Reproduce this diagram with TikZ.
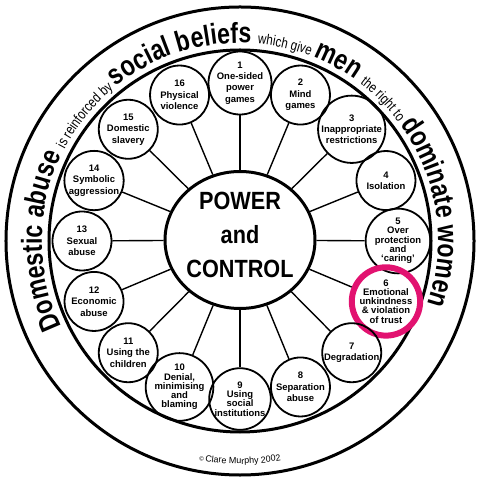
\documentclass[tikz,border=0pt]{standalone}
\usepackage{fontspec}
\setmainfont{Liberation Sans}
\newfontfamily\ringfont[FakeStretch=0.8]{Liberation Sans}
\newfontfamily\hubfont[FakeStretch=0.87]{Liberation Sans}
\usetikzlibrary{shapes.geometric}
\usetikzlibrary{decorations.text}
\definecolor{ringpink}{RGB}{226,18,112}
\newcommand{\ringbig}{\ringfont\bfseries\fontsize{29}{29}\selectfont}
\newcommand{\ringsmall}{\ringfont\fontsize{14.5}{14.5}\selectfont}
\newcommand{\copyfont}{\fontsize{9}{9}\selectfont}
\tikzset{tactic/.style={circle,draw,line width=1.8bp,minimum size=59bp,inner sep=0pt,align=center,font=\bfseries\fontsize{9.5}{11.5}\selectfont}}
\tikzset{tight/.style={font=\bfseries\fontsize{9.5}{9.3}\selectfont}}
\tikzset{spoke/.style={line width=1.4bp}}
\begin{document}
\begin{tikzpicture}[x=1bp,y=1bp,line join=round]
  \useasboundingbox (-240,-242) rectangle (240,241);
  \draw[line width=3bp] (0,0) circle [radius=234];
  \draw[line width=3bp] (0,0) circle [radius=191];
  \path[decorate,decoration={text along path,text align=center,
    text={|\ringbig|Domestic abuse |\ringsmall|is reinforced by |\ringbig|social beliefs |\ringsmall|which give |\ringbig|men |\ringsmall|the right to |\ringbig|dominate women}}]
    (211:198) arc [start angle=211,end angle=-24,radius=198];
  \path[decorate,decoration={text along path,text align=center,
    text={|\fontsize{6}{6}\selectfont|© |\copyfont|Clare Murphy 2002}}]
    (250:223) arc [start angle=250,end angle=290,radius=223];
  \node (pc) [ellipse,draw,line width=3bp,minimum width=150bp,minimum height=137bp] at (0,1) {};
  \node (pclabel) [align=center,font=\hubfont\bfseries\fontsize{25}{34}\selectfont] at (0,6) {POWER\\and\\CONTROL};
  \node (n1) [tactic] at (90:158) {1\\One-sided\\power\\games}
    edge [spoke] (pc);
  \node (n2) [tactic] at (67.5:158) {2\\Mind\\games}
    edge [spoke] (pc);
  \node (n3) [tactic] at (45:158) {3\\Inappropriate\\restrictions}
    edge [spoke] (pc);
  \node (n4) [tactic] at (22.5:158) {4\\Isolation}
    edge [spoke] (pc);
  \node (n5) [tactic,tight] at (0:158) {5\\Over\\protection\\and\\‘caring’}
    edge [spoke] (pc);
  \node (n6) [tactic,tight,draw=ringpink,line width=6bp,minimum size=66bp] at (-22.5:158) {6\\Emotional\\unkindness\\\& violation\\of trust}
    edge [spoke] (pc);
  \node (n7) [tactic] at (-45:158) {7\\Degradation}
    edge [spoke] (pc);
  \node (n8) [tactic] at (-67.5:158) {8\\Separation\\abuse}
    edge [spoke] (pc);
  \node (n9) [tactic,tight] at (-90:158) {9\\Using\\social\\institutions}
    edge [spoke] (pc);
  \node (n10) [tactic,tight] at (-112.5:158) {10\\Denial,\\minimising\\and\\blaming}
    edge [spoke] (pc);
  \node (n11) [tactic] at (-135:158) {11\\Using the\\children}
    edge [spoke] (pc);
  \node (n12) [tactic] at (-157.5:158) {12\\Economic\\abuse}
    edge [spoke] (pc);
  \node (n13) [tactic] at (180:158) {13\\Sexual\\abuse}
    edge [spoke] (pc);
  \node (n14) [tactic] at (157.5:158) {14\\Symbolic\\aggression}
    edge [spoke] (pc);
  \node (n15) [tactic] at (135:158) {15\\Domestic\\slavery}
    edge [spoke] (pc);
  \node (n16) [tactic] at (112.5:158) {16\\Physical\\violence}
    edge [spoke] (pc);
\end{tikzpicture}
\end{document}
